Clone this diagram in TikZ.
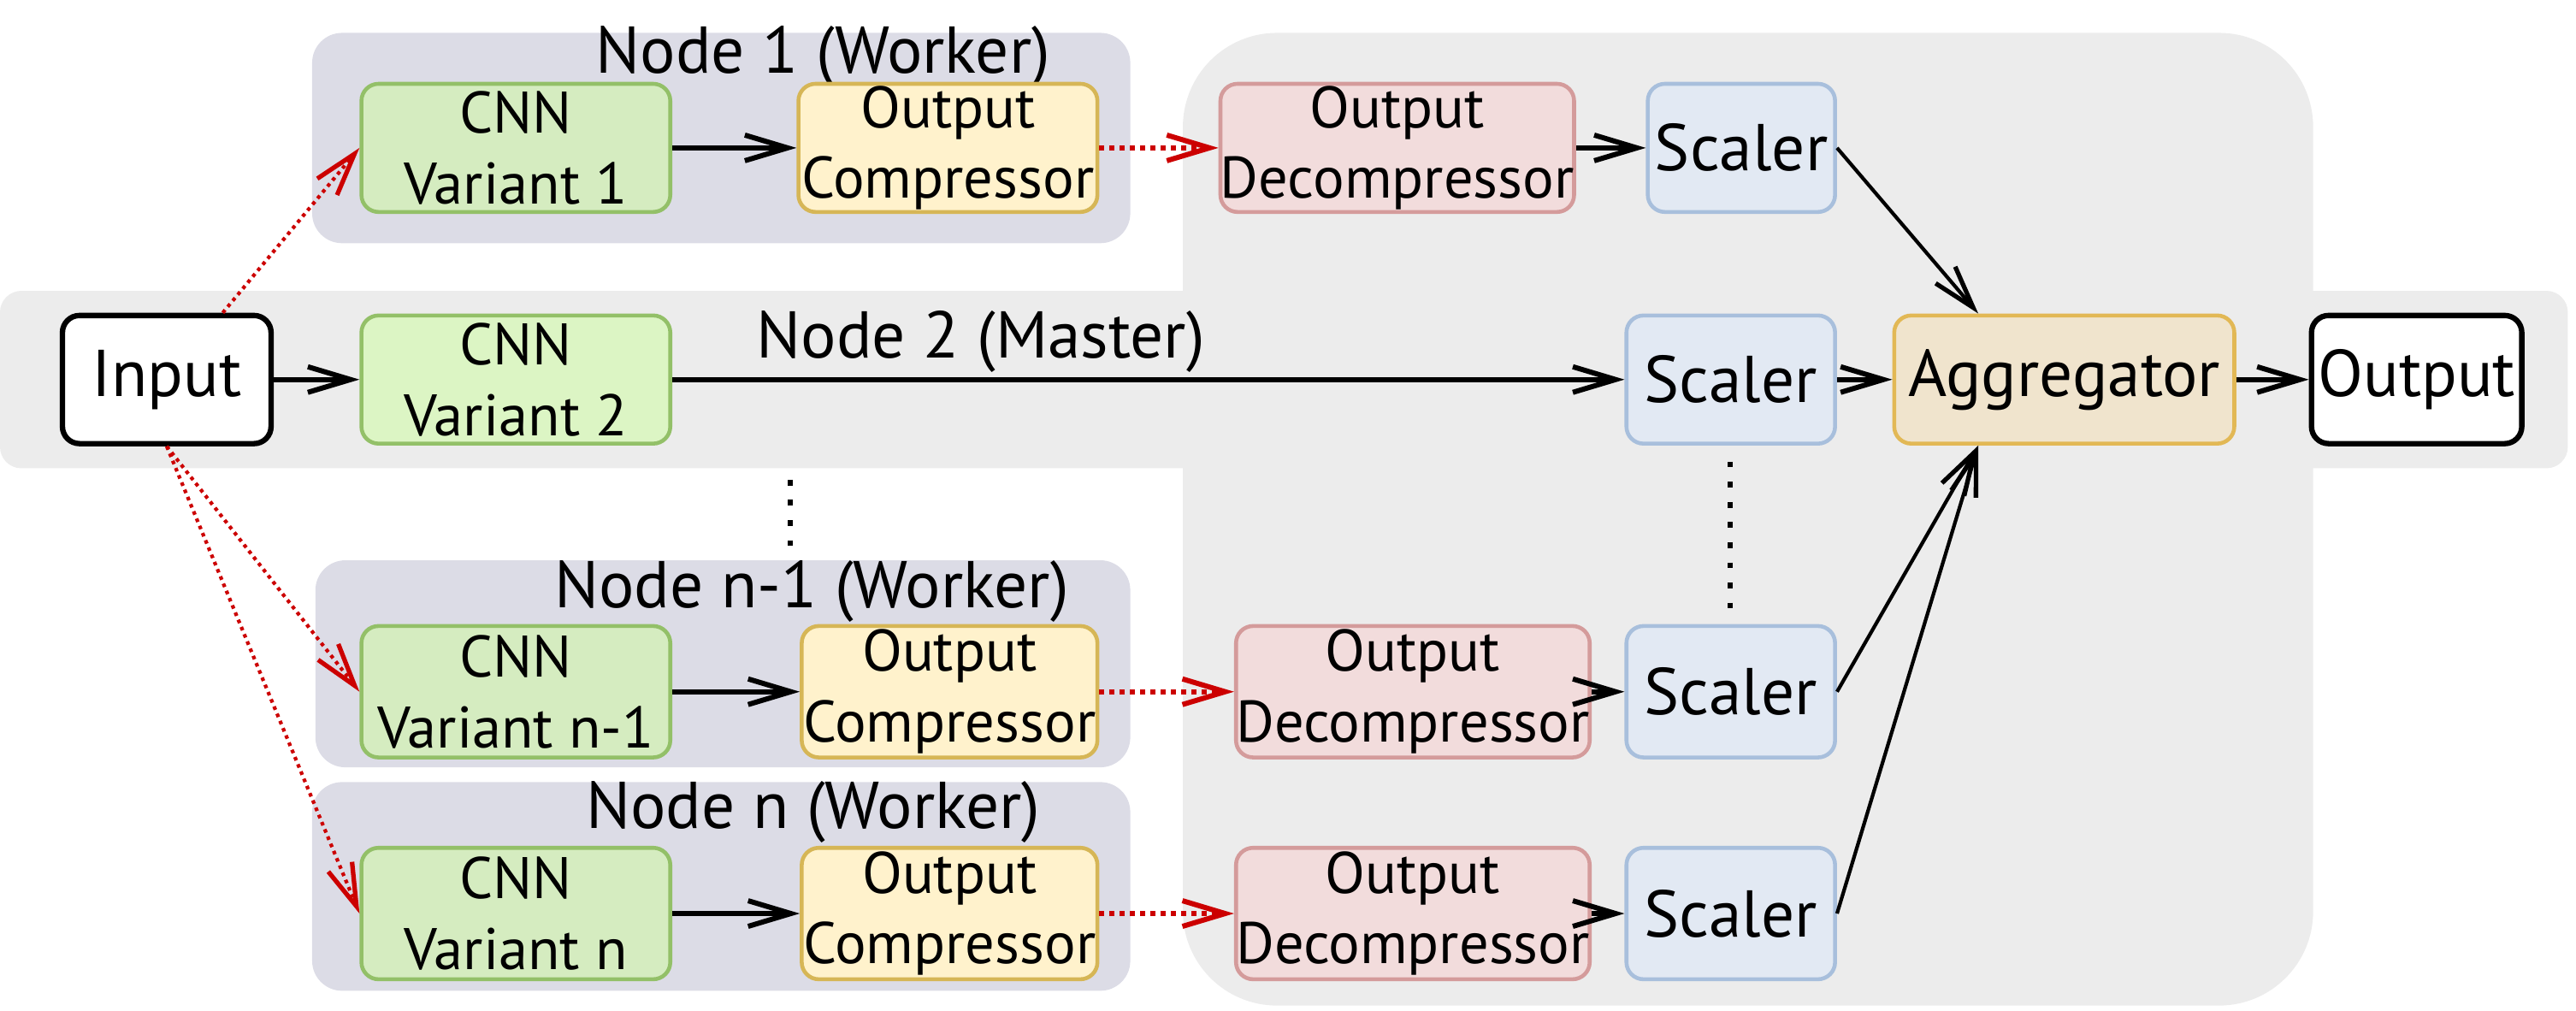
\documentclass[tikz,border=0pt]{standalone}
\usepackage{fontspec}
\setmainfont{PT Sans}
\usetikzlibrary{arrows.meta,calc}
\definecolor{wgray}{HTML}{DCDCE6}
\definecolor{mgray}{HTML}{ECECEC}
\definecolor{gfill}{HTML}{D5ECC0}
\definecolor{gfilltwo}{HTML}{DCF5C4}
\definecolor{gline}{HTML}{93C068}
\definecolor{yfill}{HTML}{FFF2CC}
\definecolor{yline}{HTML}{D6B656}
\definecolor{rfill}{HTML}{F2DCDC}
\definecolor{rline}{HTML}{D49B9B}
\definecolor{bfill}{HTML}{E2E9F3}
\definecolor{bline}{HTML}{A8BFDC}
\definecolor{afill}{HTML}{F0E4CD}
\definecolor{aline}{HTML}{E2B855}
\definecolor{redarr}{HTML}{CC0000}
\tikzset{
  sz/.style 2 args={minimum width=#1*0.1921mm, minimum height=#2*0.1921mm},
  box/.style={draw, line width=1.3pt, rounded corners=2mm, inner sep=0pt, align=center,
              font=\fontsize{19.5}{23.5}\selectfont},
  bigtext/.style={font=\fontsize{22}{26}\selectfont},
  cnnbox/.style={box, fill=gfill, draw=gline},
  cnnboxtwo/.style={box, fill=gfilltwo, draw=gline},
  compbox/.style={box, fill=yfill, draw=yline},
  decbox/.style={box, fill=rfill, draw=rline},
  scalebox/.style={box, bigtext, fill=bfill, draw=bline},
  aggbox/.style={box, bigtext, fill=afill, draw=aline},
  iobox/.style={box, bigtext, fill=white, draw=black, line width=1.8pt},
  groupbg/.style={fill=wgray, rounded corners=3.5mm, inner sep=0pt},
  masterbg/.style={fill=mgray, inner sep=0pt},
  grplabel/.style={font=\fontsize{22}{26}\selectfont, inner sep=0pt, anchor=base},
  arr/.style={draw=black, line width=1.7pt, -{Straight Barb[length=5mm,width=3mm]}},
  thinarr/.style={draw=black, line width=1.2pt, -{Straight Barb[length=5mm,width=3mm,line width=1.5pt]}},
  reddots/.style={draw=redarr, line width=1.7pt, dash pattern=on 1.7pt off 1.7pt,
                  -{Straight Barb[length=5mm,width=3mm,line width=1.7pt]}},
  redfine/.style={draw=redarr, line width=1.2pt, dash pattern=on 1.2pt off 1.4pt,
                  -{Straight Barb[length=5mm,width=3mm,line width=1.5pt]}},
  vdots/.style={draw=black, line width=1.7pt, dash pattern=on 1.9pt off 4.8pt},
}
\begin{document}
\begin{tikzpicture}[x=0.1921mm, y=-0.1921mm]
\useasboundingbox (0,0) rectangle (1568,615);

% backgrounds
\node[masterbg, rounded corners=2.5mm, sz={1563}{108}] (gm) at (781.5,231) {};
\node[masterbg, rounded corners=11mm, sz={688}{592}] (gr) at (1064,316) {};
\node[groupbg, sz={498}{128}] (g1) at (439,84) {};
\node[groupbg, sz={496}{126}] (gn1) at (440,404) {};
\node[groupbg, sz={498}{127}] (gn) at (439,539.5) {};

% group labels
\node[grplabel] (t1) at (501,44.5) {Node 1 (Worker)};
\node[grplabel] (t2) at (597,218) {Node 2 (Master)};
\node[grplabel] (tn1) at (494,370) {Node n-1 (Worker)};
\node[grplabel] (tn) at (495,504) {Node n (Worker)};

% row 1
\node[cnnbox, sz={188}{78}] (c1) at (314,90) {CNN\\Variant 1};
\node[compbox, sz={182}{78}] (oc1) at (577,90) {Output\\Compressor};
\node[decbox, sz={213}{78}] (od1) at (850.5,90) {Output\\Decompressor};
\node[scalebox, sz={114}{78}] (sc1) at (1060,90) {Scaler};

% master row
\node[iobox, sz={127}{78}] (in) at (101.5,231) {Input};
\node[cnnboxtwo, sz={188}{78}] (c2) at (314,231) {CNN\\Variant 2};
\node[scalebox, sz={127}{78}] (sc2) at (1053.5,231) {Scaler};
\node[aggbox, sz={207}{78}] (agg) at (1256.5,231) {Aggregator};
\node[iobox, sz={128}{78}] (out) at (1471,231) {Output};

% row n-1
\node[cnnbox, sz={188}{80}] (cn1) at (314,421) {CNN\\Variant n-1};
\node[compbox, sz={180}{80}] (ocn1) at (578,421) {Output\\Compressor};
\node[decbox, sz={214}{80}] (odn1) at (860,421) {Output\\Decompressor};
\node[scalebox, sz={127}{80}] (scn1) at (1053.5,421) {Scaler};

% row n
\node[cnnbox, sz={188}{80}] (cn) at (314,556) {CNN\\Variant n};
\node[compbox, sz={180}{80}] (ocn) at (578,556) {Output\\Compressor};
\node[decbox, sz={214}{80}] (odn) at (860,556) {Output\\Decompressor};
\node[scalebox, sz={127}{80}] (scn) at (1053.5,556) {Scaler};

% vertical dots
\coordinate (dl1) at (481,292);
\coordinate (dl2) at (481,334);
\coordinate (dr1) at (1053,281);
\coordinate (dr2) at (1053,371);
\draw[vdots] (dl1) -- (dl2);
\draw[vdots] (dr1) -- (dr2);

% connectors
\coordinate (aggT) at ($(agg.north west)!0.25!(agg.north east)$);
\coordinate (aggB) at ($(agg.south west)!0.25!(agg.south east)$);

\draw[arr] (c1) -- (oc1);
\draw[arr] (cn1) -- (ocn1);
\draw[arr] (cn) -- (ocn);
\draw[arr] (od1) -- (sc1);
\draw[arr] (odn1) -- (scn1);
\draw[arr] (odn) -- (scn);
\draw[arr] (in) -- (c2);
\draw[arr] (c2) -- (sc2);
\draw[arr] (sc2) -- (agg);
\draw[arr] (agg) -- (out);
\draw[thinarr] (sc1.east) -- (aggT);
\draw[thinarr] (scn1.east) -- (aggB);
\draw[thinarr] (scn.east) -- (aggB);

\draw[reddots] (oc1) -- (od1);
\draw[reddots] (ocn1) -- (odn1);
\draw[reddots] (ocn) -- (odn);

\draw[redfine] (in.50) -- (c1.west);
\draw[redfine] (in.south) -- (cn1.west);
\draw[redfine] (in.south) -- (cn.west);
\end{tikzpicture}
\end{document}
